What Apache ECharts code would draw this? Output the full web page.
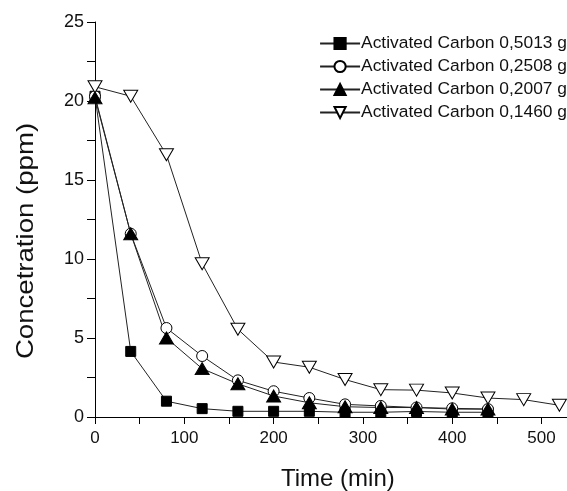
<!DOCTYPE html>
<html><head><meta charset="utf-8">
<script src="https://cdn.jsdelivr.net/npm/echarts@6/dist/echarts.min.js"></script>
<style>html,body{margin:0;padding:0;background:#fff}#c{width:567px;height:491px}</style>
</head><body><div id="c"></div>
<script>
const seriesNames = ['Activated Carbon 0,5013 g','Activated Carbon 0,2508 g','Activated Carbon 0,2007 g','Activated Carbon 0,1460 g'];
const timeA = [0,40,80,120,160,200,240,280,320,360,400,440];
const timeB = [0,40,80,120,160,200,240,280,320,360,400,440,480,520];
const c5013 = [20.3,4.15,1.0,0.53,0.36,0.36,0.36,0.3,0.3,0.35,0.3,0.3];
const c2508 = [20.3,11.6,5.63,3.86,2.32,1.63,1.2,0.8,0.7,0.6,0.55,0.5];
const c2007 = [20.2,11.6,5.0,3.06,2.1,1.33,0.9,0.65,0.6,0.6,0.5,0.5];
const c1460 = [20.9,20.3,16.6,9.7,5.55,3.48,3.15,2.37,1.73,1.7,1.52,1.2,1.1,0.74];
const xTicks = [0,100,200,300,400,500];
const yTicks = [0,5,10,15,20,25];

function pairs(t, v){ return t.map((x,i)=>[x, v[i]]); }
const font = 'Liberation Sans, Arial, sans-serif';
const chart = echarts.init(document.getElementById('c'), null, {renderer:'canvas'});
function mk(name, data, symbol, size, fill, rot){
  return {name, type:'line', data, symbol, symbolSize:size, symbolRotate:rot||0,
    lineStyle:{color:'#222', width:1}, itemStyle:{color:fill, borderColor:'#000', borderWidth:1},
    emphasis:{disabled:true}, animation:false, z: 3};
}
chart.setOption({
  animation:false,
  grid:{left:95, top:22, right:0, bottom:74, containLabel:false},
  legend:{orient:'vertical', right:0, top:35, padding:0, itemWidth:40, itemHeight:14, itemGap:6,
    textStyle:{fontFamily:font, fontSize:17.4, color:'#111', padding:[0,0,0,-4]},
    data:seriesNames},
  xAxis:[{type:'value', min:0, max:528.5, interval:50, position:'bottom',
    axisLine:{show:true, onZero:false, lineStyle:{color:'#000', width:1}},
    axisTick:{show:true, length:7, lineStyle:{color:'#000'}},
    axisLabel:{fontFamily:font, fontSize:17, color:'#111', margin:13, showMaxLabel:false,
      formatter:v=> xTicks.includes(v)? String(v): ''},
    splitLine:{show:false}},
   {type:'value', min:0, max:528.5, position:'top', axisLine:{show:true, lineStyle:{color:'#000'}},
    axisTick:{show:false}, axisLabel:{show:false}, splitLine:{show:false}}],
  yAxis:[{type:'value', min:0, max:25, interval:2.5,
    axisLine:{show:true, onZero:false, lineStyle:{color:'#000', width:1}},
    axisTick:{show:true, length:8, lineStyle:{color:'#000'}},
    axisLabel:{fontFamily:font, fontSize:18, color:'#111', margin:11,
      formatter:v=> yTicks.includes(v)? String(v): ''},
    splitLine:{show:false}}],
  graphic:[
    {type:'text', left:281, top:467, style:{text:'Time (min)', font:'24px '+font, fill:'#111'}},
    {type:'text', x:14, y:241, rotation:Math.PI/2, scaleX:1.15, style:{text:'Concetration (ppm)', font:'24px '+font, fill:'#111', align:'center', verticalAlign:'top'}}
  ],
  series:[
    mk(seriesNames[0], pairs(timeA,c5013), 'rect', 10, '#000'),
    mk(seriesNames[1], pairs(timeA,c2508), 'circle', 11, '#fff'),
    mk(seriesNames[2], pairs(timeA,c2007), 'triangle', [14,12], '#000'),
    mk(seriesNames[3], pairs(timeB,c1460), 'triangle', [14,12], '#fff', 180)
  ]
});
</script></body></html>
